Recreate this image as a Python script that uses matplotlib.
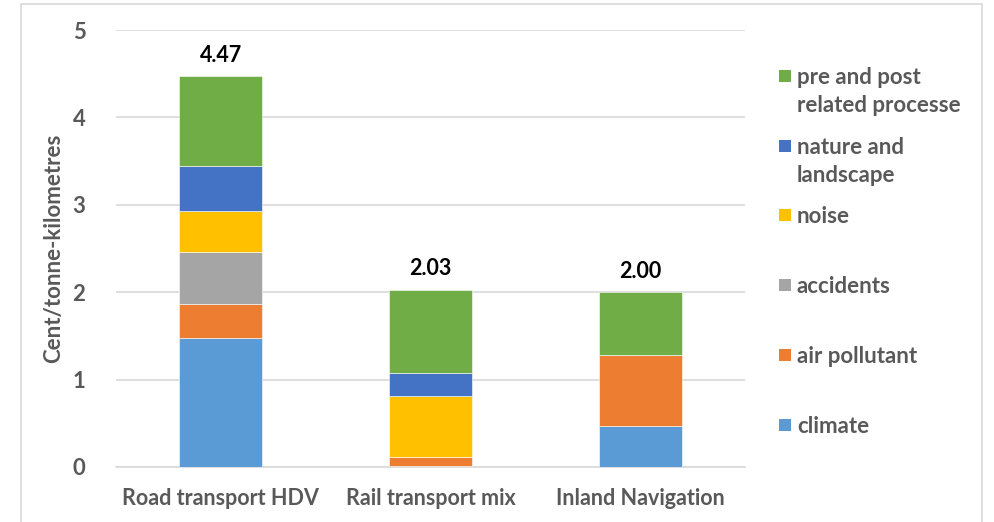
import matplotlib.pyplot as plt
from matplotlib.patches import Rectangle
import numpy as np

plt.rcParams['font.family'] = ['Lato', 'DejaVu Sans']

# ---- data ----
categories = ['Road transport HDV', 'Rail transport mix', 'Inland Navigation']
climate = [1.48, 0.01, 0.47]
air_pollutant = [0.39, 0.10, 0.81]
accidents = [0.59, 0.0, 0.0]
noise = [0.47, 0.70, 0.0]
nature = [0.51, 0.26, 0.0]
pre_post = [1.03, 0.96, 0.72]
totals = ['4.47', '2.03', '2.00']

series = [
    ('climate', climate, '#5B9BD5'),
    ('air pollutant', air_pollutant, '#ED7D31'),
    ('accidents', accidents, '#A5A5A5'),
    ('noise', noise, '#FFC000'),
    ('nature and\nlandscape', nature, '#4472C4'),
    ('pre and post\nrelated processe', pre_post, '#70AD47'),
]

txt_col = '#595959'

fig = plt.figure(figsize=(9.95, 5.22), dpi=100)
ax = fig.add_axes([0.1166, 0.1054, 0.6321, 0.8371])

x = np.arange(len(categories))
bottom = np.zeros(len(categories))
for name, vals, col in series:
    vals = np.array(vals)
    ax.bar(x, vals, width=0.395, bottom=bottom, color=col, zorder=3,
           edgecolor='white', linewidth=0.4)
    bottom += vals

# totals above each bar
for xi, top, lab in zip(x, bottom, totals):
    ax.text(xi, top + 0.12, lab, ha='center', va='bottom', fontsize=15.5,
            fontweight='bold', color='black')

ax.set_xlim(-0.5, 2.5)
ax.set_ylim(0, 5)
ax.set_yticks(range(0, 6))
ax.yaxis.grid(True, color='#D9D9D9', linewidth=1.2, zorder=0)
ax.set_axisbelow(True)
for s in ['top', 'right', 'left']:
    ax.spines[s].set_visible(False)
ax.spines['bottom'].set_color('#D9D9D9')
ax.spines['bottom'].set_linewidth(1.2)
ax.tick_params(axis='both', length=0, colors=txt_col)
ax.tick_params(axis='y', pad=22)
ax.tick_params(axis='x', pad=15)
ax.set_xticks(x)
ax.set_xticklabels(categories, fontsize=15.5, fontweight='bold', color=txt_col)
for lab in ax.get_yticklabels():
    lab.set_fontsize(16)
    lab.set_fontweight('bold')
ax.set_ylabel('Cent/tonne-kilometres', fontsize=16, fontweight='bold',
              color=txt_col, labelpad=6)

# legend drawn by hand, top entry first
W, H = 995, 522
leg_y = [76, 146, 215, 285, 355, 425]
for (name, vals, col), yy in zip(series[::-1], leg_y):
    fig.patches.append(Rectangle((779 / W, 1 - (yy + 6) / H), 12 / W, 12 / H,
                                 transform=fig.transFigure, facecolor=col,
                                 edgecolor='none'))
    fig.text(797 / W, 1 - (yy - 9) / H, name, ha='left', va='top',
             fontsize=16, fontweight='bold', color=txt_col, linespacing=1.4)

# outer frame
fig.patches.append(Rectangle((21 / W, -0.1), 961 / W, 1.1 - 4 / H,
                             transform=fig.transFigure, facecolor='none',
                             edgecolor='#D9D9D9', linewidth=1.2))

fig.savefig('out.png', dpi=100)
